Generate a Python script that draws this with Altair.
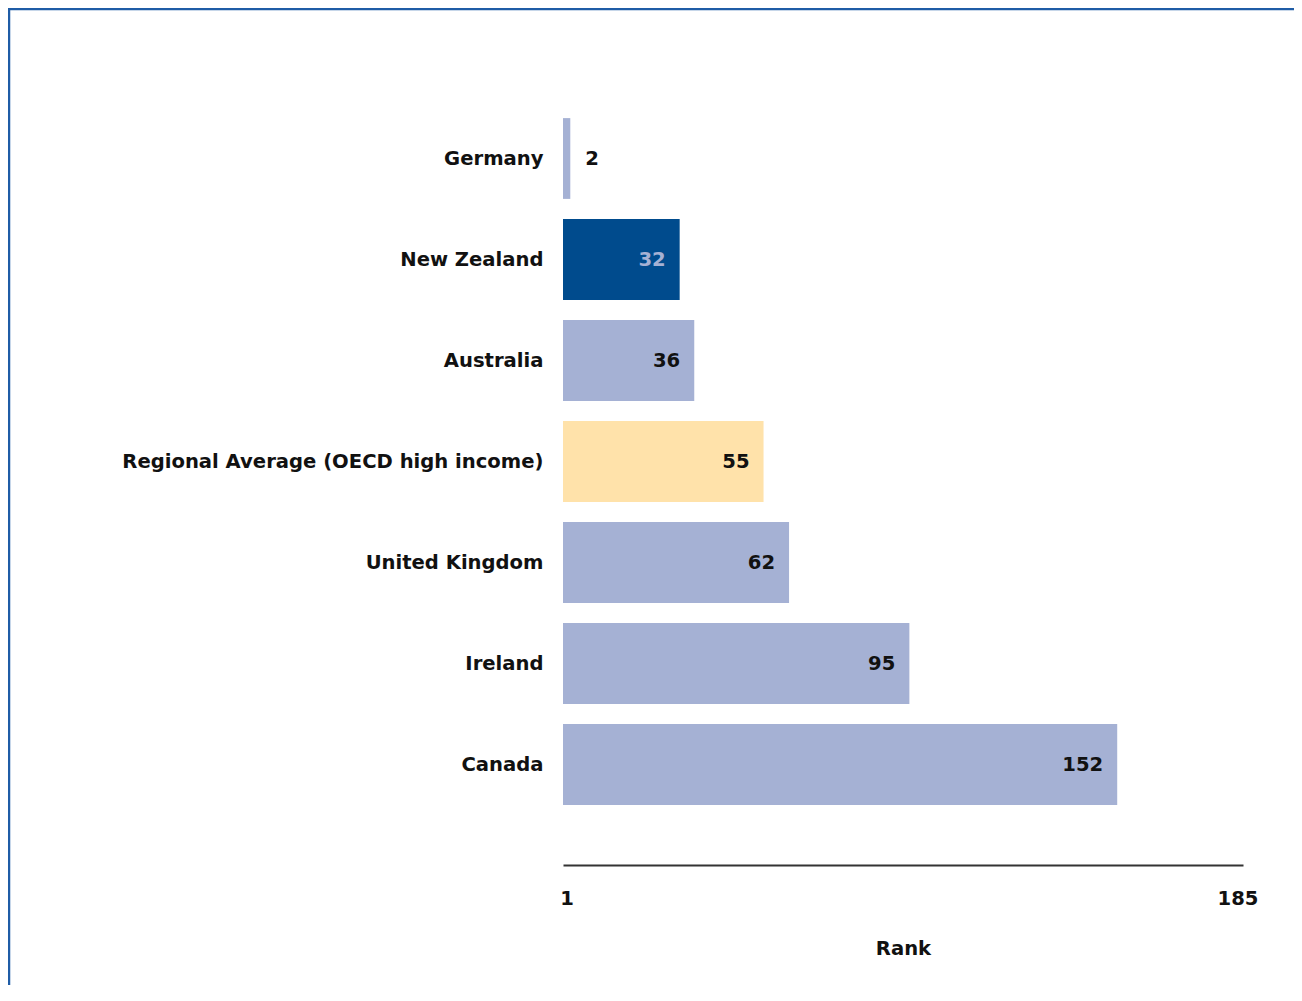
import altair as alt
import pandas as pd

countries = ["Germany", "New Zealand", "Australia", "Regional Average (OECD high income)",
             "United Kingdom", "Ireland", "Canada"]
ranks = [2, 32, 36, 55, 62, 95, 152]
groups = ["other", "focus", "other", "region", "other", "other", "other"]
axis_ticks = [1, 185]

df = pd.DataFrame({"country": countries, "rank": ranks, "group": groups})

FONT = "DejaVu Sans"
FS = 19.6

y_enc = alt.Y("country:N", sort=countries, title=None,
              scale=alt.Scale(paddingInner=0.2, paddingOuter=0.1),
              axis=alt.Axis(domain=False, ticks=False, labelPadding=20, labelFont=FONT,
                            labelFontSize=FS, labelFontWeight="bold", labelColor="#111111",
                            labelLimit=600))
x_scale = alt.Scale(domain=[0, 186.5], nice=False, zero=True)

base = alt.Chart(df)

bars = base.mark_bar().encode(
    x=alt.X("rank:Q", scale=x_scale, title="Rank",
            axis=alt.Axis(values=axis_ticks, grid=False, ticks=False, tickSize=0, offset=50,
                          domainColor="#333333", domainWidth=2, labelPadding=24,
                          labelFont=FONT, labelFontSize=FS, labelFontWeight="bold",
                          labelColor="#111111", titleFont=FONT, titleFontSize=FS,
                          titleFontWeight="bold", titleColor="#111111", titlePadding=32)),
    y=y_enc,
    color=alt.Color("group:N", legend=None,
                    scale=alt.Scale(domain=["other", "focus", "region"],
                                    range=["#A5B1D4", "#004B8D", "#FFE2AA"])),
)

inside = base.transform_filter("datum.rank >= 10").mark_text(
    align="right", baseline="middle", dx=-14, font=FONT, fontSize=FS, fontWeight="bold"
).encode(
    x=alt.X("rank:Q", scale=x_scale),
    y=alt.Y("country:N", sort=countries),
    text="rank:Q",
    color=alt.condition("datum.group == 'focus'", alt.value("#A5B1D4"), alt.value("#111111")),
)

outside = base.transform_filter("datum.rank < 10").mark_text(
    align="left", baseline="middle", dx=15, font=FONT, fontSize=FS, fontWeight="bold",
    color="#111111"
).encode(
    x=alt.X("rank:Q", scale=x_scale),
    y=alt.Y("country:N", sort=countries),
    text="rank:Q",
)

frame = alt.Chart(alt.Data(values=[{"a": 1}])).mark_rect(
    fill="transparent", stroke="#1F5CA6", strokeWidth=2.5
).encode(
    x=alt.value(-554), x2=alt.value(900), y=alt.value(-99), y2=alt.value(1000)
)

chart = alt.layer(frame, bars, inside, outside).properties(
    width=680, height=707,
    background="white",
    autosize=alt.AutoSizeParams(type="none"),
    padding={"left": 555, "top": 100, "right": 51, "bottom": 170},
).configure_view(strokeWidth=0, stroke="transparent")

chart.save("out.html", embed_options={"renderer": "svg", "actions": False})
